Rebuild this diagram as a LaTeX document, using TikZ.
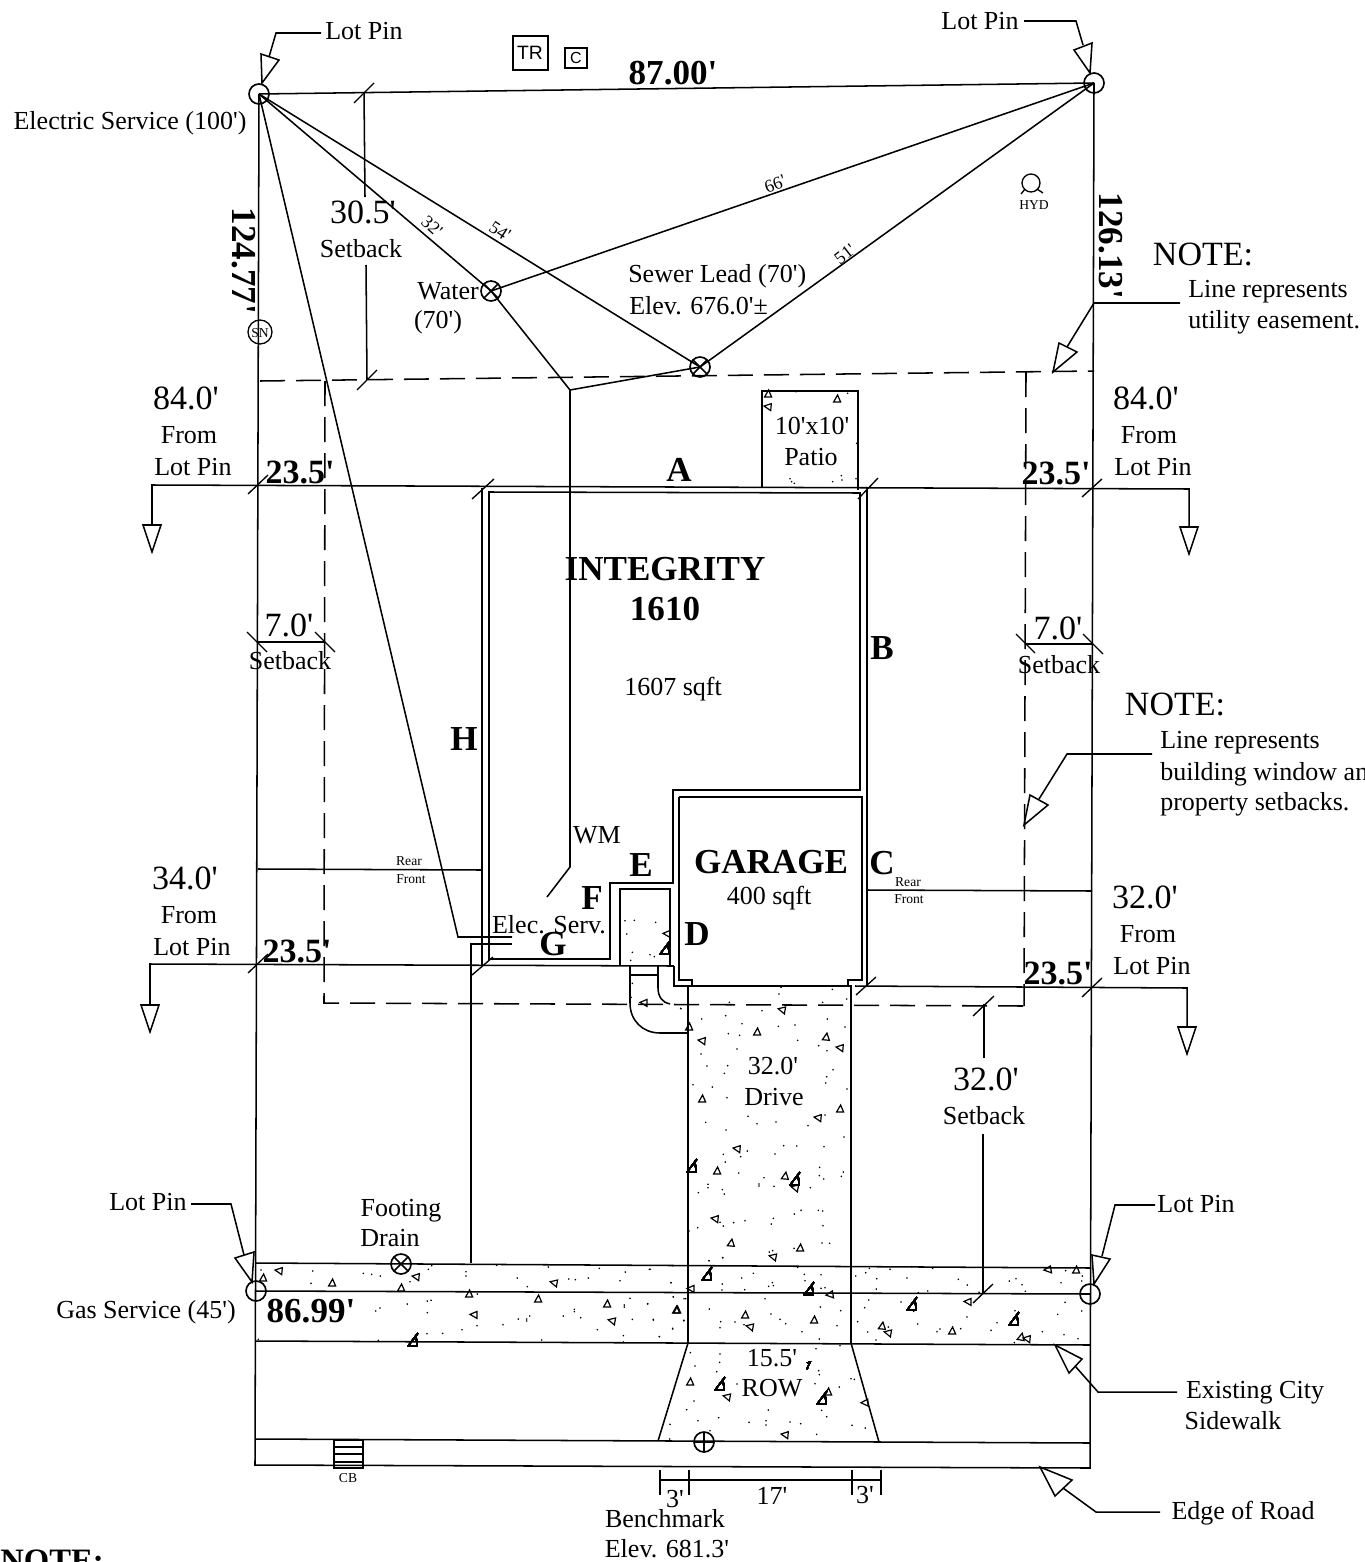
\documentclass[tikz,border=0pt]{standalone}
\usepackage{fontspec}
\usetikzlibrary{calc}
\setmainfont{Liberation Serif}[Ligatures=TeXOff]
\setsansfont{Liberation Sans}[Ligatures=TeXOff]
\newcommand\fsz[1]{\fontsize{#1}{#1}\selectfont}
\newcommand\tria[3]{\draw[tick mark,shift={(#1,#2)},rotate=#3] (-3.4,3)--(3.6,3)--(0.6,-4)--cycle;}
\newcommand\triw[2]{\draw[tick mark,shift={(#1,#2)}] (5,-7)--(-4.5,5.5)--(4,6)--(3.1,-4.5);}
\newcommand\dotsat[3]{\foreach \u/\v in {#3} \fill ({#1+\u/3},{#2+\v/3}) circle[radius=0.9];}
\tikzset{
  x=0.75pt,y=-0.75pt,
  line/.style={draw=black,line width=1.15pt},
  thinln/.style={draw=black,line width=1pt},
  tick mark/.style={draw=black,line width=0.9pt},
  dashln/.style={draw=black,line width=1.15pt,dash pattern=on 18.75pt off 8.25pt},
  lab/.style={inner sep=0pt,font=\fsz{19.5}},
  labl/.style={lab,anchor=west},
  dim/.style={inner sep=0pt,font=\fsz{25.5}},
  bold/.style={inner sep=0pt,font=\fsz{25.5}\bfseries},
  boldb/.style={inner sep=0pt,font=\fsz{26.3}\bfseries},
  tiny/.style={inner sep=0pt,font=\fsz{10.2}},
  angled/.style={inner sep=0pt,font=\fsz{13.5}},
  symbol/.style={line width=1.25pt,draw=black},
}
\begin{document}
\begin{tikzpicture}
\useasboundingbox (0,0) rectangle (1364,1562);
% key points
\coordinate (TL) at (259,94); \coordinate (TR) at (1094,83);
\coordinate (BL) at (256,1291); \coordinate (BR) at (1090,1294);
\coordinate (WT) at (491,291); \coordinate (SW) at (700,367);
\coordinate (JC) at (570,390);
% lot
\draw[line] (TL)--(TR);
\draw[line] (TL)--(255,1465)--(1090,1468)--(TR);
\draw[line] (256,1263)--(1091,1268);
\draw[line] (BL)--(BR);
\draw[line] (256,1341)--(1090,1345);
\draw[line] (255,1439)--(1090,1443);
\draw[symbol] (TL) circle[radius=10] (TR) circle[radius=10] (BL) circle[radius=10] (BR) circle[radius=10];
% utilities
\draw[line] (TL)--(SW)--(TR);
\draw[line] (TL)--(WT)--(TR);
\draw[line] (WT)--(JC)--(SW);
\draw[line] (JC)--(570,867)--(547,897);
\draw[line] (TL)--(458,937)--(512,937);
\draw[line] (471,1263)--(471,944)--(512,944);
% crossed circles
\foreach \p in {WT,SW} {\draw[symbol] (\p) circle[radius=10]; \draw[symbol] ($(\p)+(-7,-7)$)--($(\p)+(7,7)$) ($(\p)+(-7,7)$)--($(\p)+(7,-7)$);}
\coordinate (FD) at (401,1264);
\draw[symbol] (FD) circle[radius=10] ($(FD)+(-7,-7)$)--($(FD)+(7,7)$) ($(FD)+(-7,7)$)--($(FD)+(7,-7)$);
\coordinate (BM) at (704,1442);
\draw[symbol] (BM) circle[radius=10] ($(BM)+(-10,0)$)--($(BM)+(10,0)$) ($(BM)+(0,-10)$)--($(BM)+(0,10)$);
% dashed envelope
\draw[dashln] (260,381)--(1094,371);
\draw[dashln] (325,381)--(324,1003)--(1024,1006);
\draw[dashln] (1026,372)--(1024,1006);
% setback section lines
\draw[line] (152,525)--(152,485)--(1189,489)--(1189,527);
\draw[line] (143,525)--(161,525)--(152,552)--cycle;
\draw[line] (1180,527)--(1198,527)--(1189,554)--cycle;
\draw[line] (150,1005)--(150,964)--(674,966);
\draw[line] (141,1005)--(159,1005)--(150,1032)--cycle;
\draw[line] (855,986)--(1187,988)--(1187,1027);
\draw[line] (1178,1027)--(1196,1027)--(1187,1054)--cycle;
% ticks
\foreach \a/\b/\c/\d in {354/103/374/83, 357/390/377/370, 248/494/268/475, 1082/497/1102/479, 472/499/494/479, 858/499/878/478,
 248/973/268/954, 1082/997/1102/978, 472/975/493/957, 856/995/876/977, 973/1016/994/996, 973/1303/993/1284,
 247/632/267/652, 315/632/335/652, 1016/634/1035/653, 1083/634/1103/654}
  \draw[thinln] (\a,\b)--(\c,\d);
% setback dims
\draw[line] (364,92)--(365,197) (366,265)--(367,380);
\draw[line] (984,1004)--(984,1058) (983,1134)--(983,1294);
\draw[thinln] (257,642)--(325,642) (1026,644)--(1093,644);
% house
\draw[line] (482,488)--(482,966);
\draw[line] (489,492)--(860,493)--(860,790)--(673,790)--(673,883)--(610,883)--(610,959)--(489,959)--cycle;
\draw[line] (867,488)--(867,986);
\draw[line] (679,797)--(862,797)--(862,980)--(848,980)--(848,986);
\draw[line] (679,797)--(679,980)--(692,980)--(692,986);
\draw[line] (674,966)--(674,986)--(852,986);
\draw[line] (620,966)--(620,889)--(670,889)--(670,966);
% steps
\draw[line] (630,966)--(630,1003) .. controls (630,1021) and (643,1033) .. (660,1033)--(688,1033);
\draw[line] (658,966)--(658,988) .. controls (658,997) and (663,1003) .. (670,1004);
\draw[line] (630,975)--(658,975);
% patio
\draw[line] (762,487)--(762,391)--(858,391)--(858,490);
% drive & ROW
\draw[line] (688,986)--(688,1343)--(658,1441);
\draw[line] (851,986)--(851,1343)--(879,1442);
% rear/front lines
\draw[line] (258,869)--(482,870);
\draw[line] (867,890)--(1092,891);
% CB
\draw[line] (334,1440) rectangle (363,1468);
\draw[thinln] (334,1447)--(363,1447) (334,1454)--(363,1454) (334,1462)--(363,1462);
% bottom dim
\draw[line] (660,1480)--(881,1480);
\foreach \a in {660,689,852,881} \draw[line] (\a,1470)--(\a,1495);
% leaders
\draw[line] (321,33)--(276,33)--(269,57); \draw[line] (261,54)--(279,60)--(262,83)--cycle;
\draw[line] (1024,21)--(1076,21)--(1083,45); \draw[line] (1074,50)--(1092,43)--(1090,73)--cycle;
\draw[line] (191,1204)--(231,1204)--(244,1255); \draw[line] (235,1258)--(254,1252)--(252,1282)--cycle;
\draw[line] (1155,1205)--(1115,1205)--(1102,1256); \draw[line] (1092,1255)--(1110,1259)--(1094,1284)--cycle;
\draw[line] (1180,303)--(1094,303)--(1067,347); \draw[line] (1053,372)--(1059,343)--(1077,352)--cycle;
\draw[line] (1152,754)--(1067,754)--(1039,799); \draw[line] (1024,825)--(1030,795)--(1048,805)--cycle;
\draw[line] (1177,1392)--(1098,1392)--(1075,1366); \draw[line] (1055,1345)--(1082,1359)--(1069,1373)--cycle;
\draw[line] (1160,1512)--(1096,1512)--(1063,1488); \draw[line] (1040,1467)--(1072,1480)--(1055,1496)--cycle;
% small symbols
\draw[thinln] (513,36) rectangle (548,70);
\draw[thinln] (565,48) rectangle (587,68);
\draw[thinln] (260,332) circle[radius=12];
\draw[thinln] (1031,183) circle[radius=9];
\draw[thinln] (1021,194)--(1025,189) (1043,193)--(1037,189);
% concrete triangles
\foreach \x/\y/\a in {644/1003/90, 782/1010/80, 689/1027/0, 757/1032/0, 702/1041/85, 826/1037/-5, 840/1048/85, 702/1099/0, 818/1118/85, 840/1109/0, 737/1149/85, 717/1171/0, 785/1176/-5, 795/1188/80, 715/1219/85, 731/1243/-5, 800/1248/0, 773/1257/80,
 691/1289/90, 830/1295/100, 676/1310/0, 745/1315/0, 750/1327/80, 814/1320/0, 690/1382/0, 727/1397/80, 828/1392/0, 865/1403/95, 785/1435/85,
 968/1302/90, 882/1326/-5, 888/1333/80, 952/1331/0, 1021/1337/-10, 1027/1339/85, 1048/1270/100, 1076/1270/0,
 279/1271/85, 263/1278/0, 332/1283/0, 416/1277/85, 401/1288/0, 469/1294/0, 554/1283/80, 538/1299/0, 474/1315/90, 607/1304/0, 612/1321/80, 677/1310/0,
 768/394/0, 768/407/85, 837/399/0, 667/934/90}
 \tria{\x}{\y}{\a}
\foreach \x/\y in {692/1166, 795/1179, 707/1274, 809/1289, 720/1384, 822/1398, 912/1304, 1014/1319, 413/1340, 665/948}
 \triw{\x}{\y}
\draw[tick mark] (807,1369)--(810,1362)--(807,1363);
% concrete dots
\dotsat{640}{980}{423/22,577/28,417/42,620/57,268/67,548/67,123/86,366/92,257/107,185/117,562/117,306/131,415/139,465/135,615/141,265/161,299/166,473/181,536/197,291/207,561/212,183/222,201/258,263/257,253/280,579/269,560/290,557/309,159/314,217/321,621/327,261/353,555/405,324/409,351/431,408/426,197/427,504/437,258/450,612/471,431/497,470/498,552/500,322/513,405/522,250/523,302/530,256/546,539/562,296/579,372/593,538/587,610/576,604/589,551/597,204/613,204/623,357/612,357/618,402/619,511/623,247/629,253/642,175/638,483/691,535/691,548/693,463/702,400/715,315/722,281/728,240/727,250/738,394/732,549/737,173/743,147/753,546/789,569/790,462/805,398/812,388/816,248/833,207/842}
\dotsat{640}{1250}{28/58,98/47,207/32,248/23,473/52,340/70,305/84,493/73,543/74,495/92,93/98,247/102,397/98,386/109,400/107,246/120,314/119,543/115,555/113,100/141,132/146,375/146,23/161,208/177,541/171,602/182,393/192,420/208,40/208,131/212,242/215,285/216,437/221,312/224,240/233,591/227,98/237,486/245,58/260,538/267,528/296,600/287,151/308,240/312,239/337,165/348,536/362,230/365,538/374,633/386,643/388,525/401,291/402,598/411,162/453,140/479,385/480,545/481,560/500,236/503,174/512,327/517,378/512,378/525,450/516,482/521,90/523,636/526,676/534,530/553,89/567,210/542}
\dotsat{840}{1250}{88/55,150/58,215/50,278/55,77/68,47/78,110/86,201/84,355/88,382/105,109/117,235/128,263/123,417/127,508/93,528/86,546/104,556/124,663/98,677/62,727/78,725/93,86/150,183/156,675/157,74/173,221/184,525/182,725/183,653/193,381/201,53/215,233/222,471/218,145/231,300/237,291/245,362/236,453/241,607/245,83/246,672/254,714/266,108/270,523/278}
\dotsat{230}{1180}{93/270,248/273,400/280,425/283,451/288,243/310,605/257,595/268,540/305,708/275,708/288,862/294,892/320,1016/297,1036/299,1075/294,1170/302,1186/276,1108/265,955/261,800/256,1260/268,1323/308,1330/350,1367/356,1200/355,1183/375,1183/381,1253/372,1033/388,1033/395,437/393,450/384,532/372,592/363,603/361,592/398,742/342,741/437,819/434,865/417,890/417,890/423,899/408,1000/408,1052/413,1207/418,1270/420,1362/421,1328/445,1102/449,1180/467,1288/470,696/449,591/461,638/460,445/481,935/480,1180/486,85/478}
\dotsat{440}{780}{555/422,583/421,647/427,560/462,577/517,630/524,643/530,572/541,573/652,577/610,722/685}
\dotsat{740}{380}{168/35,323/40,150/296,155/305,163/310,304/287,306/300,278/305,348/296,350/190}
% text
\node[lab] (t1) at (364,31) {Lot Pin};
\node[lab] (t2) at (980,21) {Lot Pin};
\node[lab] (t3) at (148,1202) {Lot Pin};
\node[lab] (t4) at (1196,1204) {Lot Pin};
\node[lab] (t5) at (130,123) {Electric Service (100')};
\node[lab] (t6) at (146,1312) {Gas Service (45')};
\node[inner sep=0pt,font=\sffamily\fsz{14.5}] (tr) at (530,53) {TR};
\node[inner sep=0pt,font=\sffamily\fsz{12}] (cc) at (576,58) {C};
\node[boldb] (n87) at (673,73) {87.00'};
\node[boldb,rotate=-90] (n124) at (244,261) {124.77'};
\node[boldb,rotate=-90] (n126) at (1111,246) {126.13'};
\node[boldb] (n86) at (311,1311) {86.99'};
\node[dim] (s30) at (363,212) {30.5'};
\node[lab] (s30b) at (361,249) {Setback};
\node[angled,rotate=-42] (d32) at (432,226) {32'};
\node[angled,rotate=-33] (d54) at (500,231) {54'};
\node[angled,rotate=20] (d66) at (775,184) {66'};
\node[angled,rotate=38] (d51) at (845,254) {51'};
\node[lab] (w1) at (448,291) {Water};
\node[lab] (w2) at (438,322) {(70')};
\node[labl] (sl) at (628,276) {Sewer Lead (70')};
\node[labl] (se) at (629,306) {Elev. 676.0'±};
\node[tiny] (hyd) at (1034,205) {HYD};
\node[tiny] (sn) at (260,333) {SN};
\node[dim] (no1) at (1203,254) {NOTE:};
\node[labl] (no1a) at (1188,292) {Line represents};
\node[labl] (no1b) at (1188,322) {utility easement.};
\node[dim] (no2) at (1175,704) {NOTE:};
\node[labl] (no2a) at (1160,743) {Line represents};
\node[labl] (no2b) at (1160,774) {building window and};
\node[labl] (no2c) at (1160,804) {property setbacks.};
\node[dim] (a84) at (186,398) {84.0'};
\node[lab] (a85) at (189,435) {From};
\node[lab] (a86) at (193,467) {Lot Pin};
\node[dim] (b84) at (1146,398) {84.0'};
\node[lab] (b85) at (1149,435) {From};
\node[lab] (b86) at (1153,467) {Lot Pin};
\node[dim] (c84) at (185,878) {34.0'};
\node[lab] (c85) at (189,915) {From};
\node[lab] (c86) at (192,947) {Lot Pin};
\node[dim] (e84) at (1145,897) {32.0'};
\node[lab] (e85) at (1148,934) {From};
\node[lab] (e86) at (1152,966) {Lot Pin};
\node[bold] (g1) at (300,472) {23.5'};
\node[bold] (g2) at (1056,473) {23.5'};
\node[bold] (g3) at (297,951) {23.5'};
\node[bold] (g4) at (1058,973) {23.5'};
\node[dim] (l70) at (289,625) {7.0'};
\node[lab] (l71) at (290,661) {Setback};
\node[dim] (r70) at (1058,628) {7.0'};
\node[lab] (r71) at (1059,665) {Setback};
\foreach \n/\x/\y/\s in {A/679/470/A, B/882/648/B, C/882/863/C, D/697/934/D, E/641/865/E, F/592/898/F, G/553/944/G, H/464/739/H}
  \node[boldb] (w\n) at (\x,\y) {\s};
\node[boldb] (int) at (665,569) {INTEGRITY};
\node[boldb] (i16) at (665,609) {1610};
\node[lab] (sq) at (673,689) {1607 sqft};
\node[boldb] (gar) at (771,862) {GARAGE};
\node[lab] (gsq) at (769,898) {400 sqft};
\node[lab] (wm) at (597,835) {WM};
\node[lab] (es) at (549,925) {Elec. Serv.};
\node[lab] (pa) at (812,426) {10'x10'};
\node[lab] (pb) at (811,457) {Patio};
\node[lab] (dr) at (773,1066) {32.0'};
\node[lab] (dv) at (774,1097) {Drive};
\node[dim] (s32) at (986,1079) {32.0'};
\node[lab] (s33) at (984,1116) {Setback};
\node[tiny] (r1) at (409,861) {Rear};
\node[tiny] (f1) at (411,879) {Front};
\node[tiny] (r2) at (908,882) {Rear};
\node[tiny] (f2) at (909,899) {Front};
\node[lab] (fd) at (401,1211) {Footing};
\node[lab] (dn) at (390,1238) {Drain};
\node[lab] (rw) at (772,1358) {15.5'};
\node[lab] (ro) at (772,1388) {ROW};
\node[lab] (ex) at (1255,1393) {Existing City};
\node[lab] (ex2) at (1233,1421) {Sidewalk};
\node[lab] (er) at (1243,1513) {Edge of Road};
\node[lab] (bm) at (665,1519) {Benchmark};
\node[lab] (be) at (667,1549) {Elev. 681.3'};
\node[lab] (d1) at (675,1499) {3'};
\node[lab] (d2) at (772,1496) {17'};
\node[lab] (d3) at (865,1495) {3'};
\node[tiny] (cb) at (348,1478) {CB};
\node[inner sep=0pt,font=\fsz{24.5}\bfseries] (nb) at (52,1561) {NOTE:};
\end{tikzpicture}
\end{document}
